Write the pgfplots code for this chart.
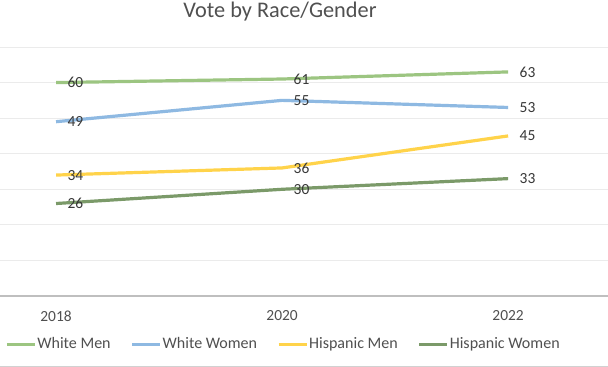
\documentclass[border=0pt]{standalone}
\usepackage{pgfplots}
\pgfplotsset{compat=1.18}
\usepackage{fontspec}
\setmainfont{Carlito}
\definecolor{cwm}{HTML}{9CC581}
\definecolor{cww}{HTML}{8EB9E2}
\definecolor{chm}{HTML}{FFD34A}
\definecolor{chw}{HTML}{7B9A69}
\definecolor{txt}{HTML}{505050}
\definecolor{lab}{HTML}{383838}
\begin{document}
\begin{tikzpicture}
\useasboundingbox (0,0) rectangle (608bp,367bp);
\fill[white] (0,0) rectangle (608bp,367bp);
\draw[color=black!18, line width=1bp] (0,0.5bp) -- (608bp,0.5bp);
\begin{axis}[
  at={(0,71bp)}, anchor=south west,
  scale only axis, width=608bp, height=249bp,
  xmin=-0.248, xmax=2.442, ymin=0, ymax=70,
  xtick={0,1,2}, xticklabels={2018,2020,2022},
  ytick={10,20,...,70}, yticklabels={},
  ymajorgrids, grid style={color=black!8, line width=0.9bp},
  axis x line*=bottom, axis y line*=left,
  x axis line style={-, color=black!25, line width=1.6bp},
  y axis line style={draw=none},
  major tick length=0,
  xticklabel style={anchor=center, yshift=-20bp, font=\fontsize{15.5}{18}\selectfont, text=txt},
  title={Vote by Race/Gender},
  title style={at={(0.4605,1)}, anchor=center, yshift=29bp, font=\fontsize{22.4}{26}\selectfont, text=txt},
  legend columns=4,
  legend style={at={(0.4655,-0.193)}, anchor=center, draw=none, fill=none,
    font=\fontsize{16.1}{18}\selectfont, text=txt,
    nodes={inner sep=1bp},
    /tikz/every even column/.append style={column sep=19bp}},
  legend image code/.code={\draw[#1, line width=3bp] (0bp,0bp) -- (28bp,0bp);},
  nodes near coords,
  every node near coord/.append style={anchor=west, xshift=10bp, font=\fontsize{15.5}{18}\selectfont, text=lab, inner sep=0pt},
  /pgf/number format/assume math mode=true,
  clip=false,
]
\addplot[color=cwm, line width=3.2bp, mark=none] coordinates {(0,60) (1,61) (2,63)};
\addlegendentry{White Men}
\addplot[color=cww, line width=3.2bp, mark=none] coordinates {(0,49) (1,55) (2,53)};
\addlegendentry{White Women}
\addplot[color=chm, line width=3.2bp, mark=none] coordinates {(0,34) (1,36) (2,45)};
\addlegendentry{Hispanic Men}
\addplot[color=chw, line width=3.2bp, mark=none] coordinates {(0,26) (1,30) (2,33)};
\addlegendentry{Hispanic Women}
\end{axis}
\end{tikzpicture}
\end{document}
